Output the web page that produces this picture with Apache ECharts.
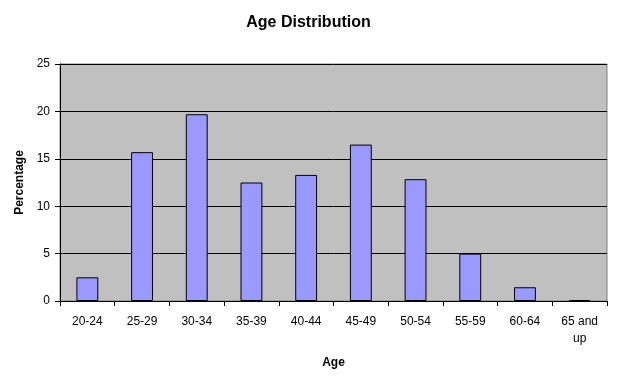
<!DOCTYPE html>
<html>
<head>
<meta charset="utf-8">
<script src="https://cdn.jsdelivr.net/npm/echarts@6/dist/echarts.min.js"></script>
<style>html,body{margin:0;padding:0;background:#fff;}#c{width:617px;height:380px;}</style>
</head>
<body>
<div id="c"></div>
<script>
const categories = ['20-24','25-29','30-34','35-39','40-44','45-49','50-54','55-59','60-64','65 and\nup'];
const percentages = [2.5, 15.7, 19.7, 12.5, 13.3, 16.5, 12.85, 5.0, 1.45, 0.1];
const yTicks = [0, 5, 10, 15, 20, 25];

const chart = echarts.init(document.getElementById('c'), null, {renderer: 'canvas'});
chart.setOption({
  animation: false,
  backgroundColor: '#ffffff',
  title: {
    text: 'Age Distribution',
    left: 'center',
    top: 10,
    textStyle: {fontFamily: 'Liberation Sans, Arial', fontWeight: 'bold', fontSize: 16, color: '#000'}
  },
  grid: {
    left: 60, right: 10, top: 64, bottom: 79,
    show: true, backgroundColor: '#C0C0C0', borderColor: '#808080', borderWidth: 1
  },
  xAxis: {
    type: 'category',
    data: categories,
    name: 'Age',
    nameLocation: 'middle',
    nameGap: 56,
    nameTextStyle: {fontFamily: 'Liberation Sans, Arial', fontWeight: 'bold', fontSize: 12, color: '#000'},
    axisLine: {lineStyle: {color: '#000', width: 1}},
    axisTick: {show: true, alignWithLabel: false, length: 5, lineStyle: {color: '#000'}},
    axisLabel: {fontFamily: 'Liberation Sans, Arial', fontSize: 12, color: '#000', margin: 12, lineHeight: 17, interval: 0},
    splitLine: {show: false}
  },
  yAxis: {
    type: 'value',
    min: yTicks[0], max: yTicks[yTicks.length - 1], interval: 5,
    name: 'Percentage',
    nameLocation: 'middle',
    nameGap: 33,
    nameRotate: 90,
    nameTextStyle: {fontFamily: 'Liberation Sans, Arial', fontWeight: 'bold', fontSize: 12, color: '#000'},
    axisLine: {show: true, lineStyle: {color: '#000', width: 1}},
    axisTick: {show: true, length: 5, lineStyle: {color: '#000'}},
    axisLabel: {fontFamily: 'Liberation Sans, Arial', fontSize: 12, color: '#000', margin: 10},
    splitLine: {show: true, lineStyle: {color: '#000', width: 1}}
  },
  series: [{
    type: 'bar',
    data: percentages,
    barWidth: '40%',
    itemStyle: {color: '#9999FF', borderColor: '#000', borderWidth: 1}
  }]
});
</script>
</body>
</html>
